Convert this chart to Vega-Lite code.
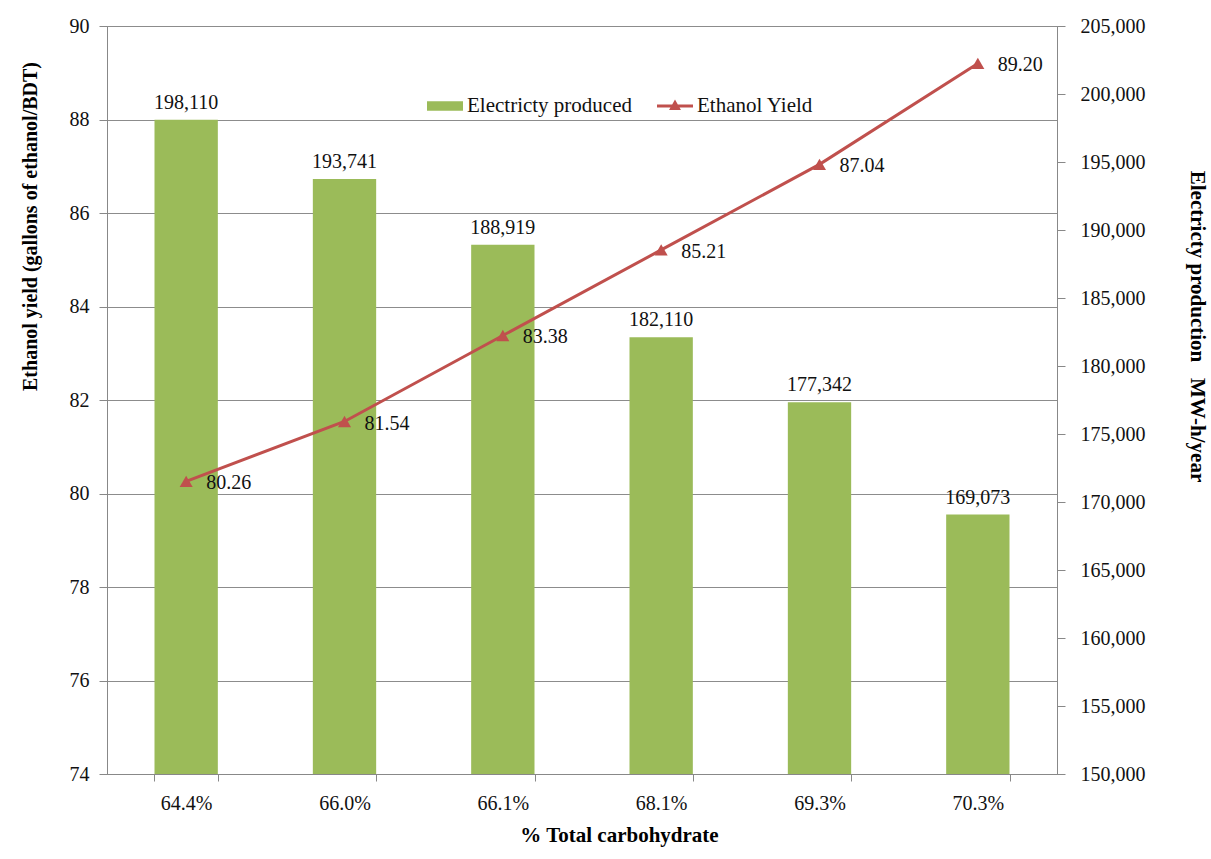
{
  "$schema": "https://vega.github.io/schema/vega-lite/v6.json",
  "width": 950,
  "height": 748,
  "autosize": {"type": "none"},
  "padding": {"left": 107, "top": 26, "right": 154, "bottom": 85},
  "background": "white",
  "config": {
    "font": "Liberation Serif",
    "view": {"stroke": "#888888", "strokeWidth": 1},
    "axis": {
      "labelFont": "Liberation Serif",
      "labelFontSize": 20,
      "labelColor": "#111111",
      "titleFont": "Liberation Serif",
      "titleFontSize": 20,
      "titleFontWeight": "bold",
      "titleColor": "#000000",
      "domainColor": "#888888",
      "tickColor": "#888888",
      "gridColor": "#8c8c8c",
      "gridWidth": 1
    }
  },
  "data": {
    "values": [
      {"carb": "64.4%", "electricity": 198110, "ethanol": 80.26},
      {"carb": "66.0%", "electricity": 193741, "ethanol": 81.54},
      {"carb": "66.1%", "electricity": 188919, "ethanol": 83.38},
      {"carb": "68.1%", "electricity": 182110, "ethanol": 85.21},
      {"carb": "69.3%", "electricity": 177342, "ethanol": 87.04},
      {"carb": "70.3%", "electricity": 169073, "ethanol": 89.2}
    ]
  },
  "encoding": {
    "x": {
      "field": "carb",
      "type": "ordinal",
      "sort": null,
      "scale": {"paddingInner": 0.6, "paddingOuter": 0.3},
      "axis": {
        "title": "% Total carbohydrate",
        "titleFontSize": 21,
        "labelAngle": 0,
        "tickBand": "extent",
        "tickSize": 7,
        "labelPadding": 12,
        "titlePadding": 11,
        "titleX": 512
      }
    }
  },
  "layer": [
    {
      "layer": [
        {
          "mark": {"type": "bar"},
          "encoding": {
            "y": {
              "field": "electricity",
              "type": "quantitative",
              "scale": {"domain": [150000, 205000], "zero": false, "nice": false},
              "axis": {
                "orient": "right",
                "title": "Electricty production\u00a0\u00a0\u00a0MW-h/year",
                "titleFontSize": 21,
                "values": [150000, 155000, 160000, 165000, 170000, 175000, 180000, 185000, 190000, 195000, 200000, 205000],
                "format": ",.0f",
                "grid": false,
                "tickSize": 8,
                "labelPadding": 15,
                "titlePadding": 41,
                "titleY": 300
              }
            },
            "y2": {"datum": 150000},
            "color": {
              "datum": "Electricty produced",
              "scale": {"domain": ["Electricty produced", "Ethanol Yield"], "range": ["#9BBB59", "#C0504D"]},
              "legend": {
                "title": null,
                "orient": "none",
                "legendX": 320,
                "legendY": 62,
                "direction": "horizontal",
                "labelFont": "Liberation Serif",
                "labelFontSize": 21,
                "labelColor": "#111111",
                "labelLimit": 400,
                "labelOffset": 4,
                "columnPadding": 24,
                "symbolSize": 1296,
                "symbolStrokeWidth": 0,
                "encode": {
                  "symbols": {
                    "update": {
                      "shape": {"signal": "datum.value === 'Ethanol Yield' ? 'M-1,-0.09H1V0.09H-1Z M0,-0.36L0.33,0.22L-0.33,0.22Z' : 'M-1,-0.27H1V0.27H-1Z'"},
                      "fill": {"signal": "datum.value === 'Ethanol Yield' ? '#C0504D' : '#9BBB59'"},
                      "strokeWidth": {"value": 0},
                      "opacity": {"value": 1}
                    }
                  }
                }
              }
            }
          }
        },
        {
          "mark": {"type": "text", "baseline": "bottom", "dy": -7, "fontSize": 20, "color": "#111111"},
          "encoding": {
            "y": {"field": "electricity", "type": "quantitative"},
            "text": {"field": "electricity", "type": "quantitative", "format": ","}
          }
        }
      ]
    },
    {
      "layer": [
        {
          "mark": {"type": "line", "strokeWidth": 3},
          "encoding": {
            "y": {
              "field": "ethanol",
              "type": "quantitative",
              "scale": {"domain": [74, 90], "zero": false, "nice": false},
              "axis": {
                "orient": "left",
                "title": "Ethanol yield (gallons of ethanol/BDT)",
                "values": [74, 76, 78, 80, 82, 84, 86, 88, 90],
                "grid": true,
                "tickSize": 8,
                "labelPadding": 10,
                "titlePadding": 29,
                "titleY": 200
              }
            },
            "color": {"datum": "Ethanol Yield"}
          }
        },
        {
          "mark": {"type": "point", "shape": "triangle-up", "filled": true, "size": 170, "opacity": 1},
          "encoding": {
            "y": {"field": "ethanol", "type": "quantitative"},
            "color": {"datum": "Ethanol Yield"}
          }
        },
        {
          "mark": {"type": "text", "align": "left", "baseline": "middle", "dx": 20, "dy": 2, "fontSize": 20, "color": "#111111"},
          "encoding": {
            "y": {"field": "ethanol", "type": "quantitative"},
            "text": {"field": "ethanol", "type": "quantitative", "format": ".2f"}
          }
        }
      ]
    }
  ],
  "resolve": {"scale": {"y": "independent"}}
}
